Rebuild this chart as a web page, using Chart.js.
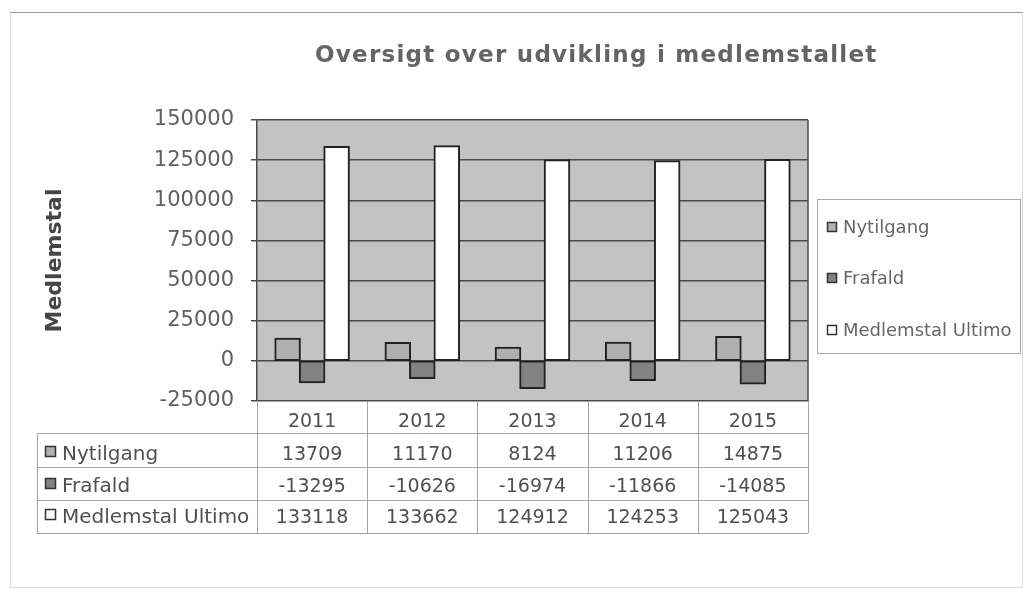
<!DOCTYPE html>
<html>
<head>
<meta charset="utf-8">
<script src="https://cdn.jsdelivr.net/npm/chart.js@4"></script>
<style>
  body { margin: 0; background: #fff; }
  #wrap { width: 1023px; height: 589px; }
</style>
</head>
<body>
<div id="wrap"><canvas id="barChart" width="1023" height="589"></canvas></div>
<script>
// Données
const years = ['2011', '2012', '2013', '2014', '2015'];
const nytilgang = [13709, 11170, 8124, 11206, 14875];
const frafald = [-13295, -10626, -16974, -11866, -14085];
const ultimo = [133118, 133662, 124912, 124253, 125043];
const seriesNames = ['Nytilgang', 'Frafald', 'Medlemstal Ultimo'];
const seriesColors = ['#b0b0b0', '#828282', '#ffffff'];
const yMin = -25000, yMax = 150000, yStep = 25000;

const titleText = 'Oversigt over udvikling i medlemstallet';
const font = '"DejaVu Sans", Verdana, sans-serif';

// petit carré de légende
function swatch(ctx, x, y, s, fill) {
    ctx.fillStyle = fill;
    ctx.fillRect(x, y, s, s);
    ctx.strokeStyle = '#333';
    ctx.lineWidth = 1.5;
    ctx.strokeRect(x + 0.5, y + 0.5, s - 1, s - 1);
}

// fond gris, titre, légende et tableau de données
const decorPlugin = {
    id: 'decor',
    beforeDraw(chart) {
        const { ctx, chartArea: a } = chart;
        ctx.save();
        // cadre extérieur léger
        ctx.strokeStyle = '#dcdcdc';
        ctx.lineWidth = 1;
        ctx.strokeRect(10.5, 12.5, 1012, 575);
        ctx.strokeStyle = '#9a9a9a';
        ctx.beginPath();
        ctx.moveTo(10, 12.5);
        ctx.lineTo(1023, 12.5);
        ctx.stroke();
        ctx.fillStyle = '#c3c3c3';
        ctx.fillRect(a.left, a.top, a.right - a.left, a.bottom - a.top);
        ctx.restore();
    },
    afterDraw(chart) {
        const { ctx, chartArea: a } = chart;
        const xs = chart.scales.x;
        ctx.save();

        // bord droit du graphique
        ctx.strokeStyle = '#4a4a4a';
        ctx.lineWidth = 1.5;
        ctx.beginPath();
        ctx.moveTo(a.right, a.top);
        ctx.lineTo(a.right, a.bottom);
        ctx.stroke();

        // titre
        ctx.fillStyle = '#646464';
        ctx.font = 'bold 23px ' + font;
        ctx.textAlign = 'left';
        ctx.textBaseline = 'alphabetic';
        if ('letterSpacing' in ctx) ctx.letterSpacing = '1.25px';
        ctx.fillText(titleText, 315, 62);
        if ('letterSpacing' in ctx) ctx.letterSpacing = '0px';

        // légende
        ctx.strokeStyle = '#aaa';
        ctx.lineWidth = 1;
        ctx.strokeRect(817.5, 199.5, 203, 154);
        ctx.font = '18px ' + font;
        const legY = [233, 284, 336];
        seriesNames.forEach((n, i) => {
            swatch(ctx, 827, legY[i] - 11, 10, seriesColors[i]);
            ctx.fillStyle = '#666';
            ctx.fillText(n, 843, legY[i]);
        });

        // tableau de données
        const n = years.length;
        const colW = (a.right - a.left) / n;
        const rows = [433, 467, 500, 533];
        const tLeft = 37;
        ctx.strokeStyle = '#a5a5a5';
        ctx.lineWidth = 1;
        ctx.beginPath();
        rows.forEach(y => {
            ctx.moveTo(tLeft, y + 0.5);
            ctx.lineTo(a.right, y + 0.5);
        });
        ctx.moveTo(tLeft + 0.5, rows[0]);
        ctx.lineTo(tLeft + 0.5, rows[3]);
        for (let i = 0; i <= n; i++) {
            const x = Math.round(a.left + i * colW) + 0.5;
            ctx.moveTo(x, a.bottom);
            ctx.lineTo(x, rows[3]);
        }
        ctx.stroke();

        ctx.fillStyle = '#505050';
        ctx.textAlign = 'center';
        ctx.font = '19px ' + font;
        years.forEach((y, i) => ctx.fillText(y, xs.getPixelForValue(i), 427));
        const vals = [nytilgang, frafald, ultimo];
        const base = [460, 492, 523];
        vals.forEach((arr, r) => {
            arr.forEach((v, i) => ctx.fillText(String(v), xs.getPixelForValue(i), base[r]));
        });
        ctx.textAlign = 'left';
        ctx.font = '20px ' + font;
        seriesNames.forEach((nm, r) => {
            swatch(ctx, 45, base[r] - 14, 11, seriesColors[r]);
            ctx.fillStyle = '#505050';
            ctx.fillText(nm, 62, base[r]);
        });
        ctx.restore();
    }
};

const mkSet = (label, data, color) => ({
    label: label,
    data: data,
    backgroundColor: color,
    borderColor: '#222',
    borderWidth: 2,
    borderSkipped: false,
    inflateAmount: 1,
    categoryPercentage: 0.667,
    barPercentage: 1.0
});

const barConfig = {
    type: 'bar',
    data: {
        labels: years,
        datasets: [
            mkSet(seriesNames[0], nytilgang, seriesColors[0]),
            mkSet(seriesNames[1], frafald, seriesColors[1]),
            mkSet(seriesNames[2], ultimo, seriesColors[2])
        ]
    },
    options: {
        responsive: false,
        animation: false,
        layout: { padding: { left: 30, top: 120, right: 215, bottom: 188 } },
        plugins: {
            legend: { display: false },
            title: { display: false },
            tooltip: { enabled: false }
        },
        scales: {
            x: { display: false },
            y: {
                min: yMin,
                max: yMax,
                afterFit: s => { s.width = 227; },
                ticks: {
                    stepSize: yStep,
                    padding: 17,
                    color: '#606060',
                    font: { family: font, size: 21 },
                    callback: v => String(v)
                },
                grid: { color: '#4a4a4a', lineWidth: 1.5, tickLength: 6 },
                border: { display: true, color: '#4a4a4a', width: 1.5 },
                title: {
                    display: true,
                    text: 'Medlemstal',
                    color: '#454545',
                    font: { family: font, size: 22, weight: 'bold' },
                    padding: { top: 12, bottom: 0 }
                }
            }
        }
    },
    plugins: [decorPlugin]
};

const barChart = new Chart(document.getElementById('barChart'), barConfig);
</script>
</body>
</html>
